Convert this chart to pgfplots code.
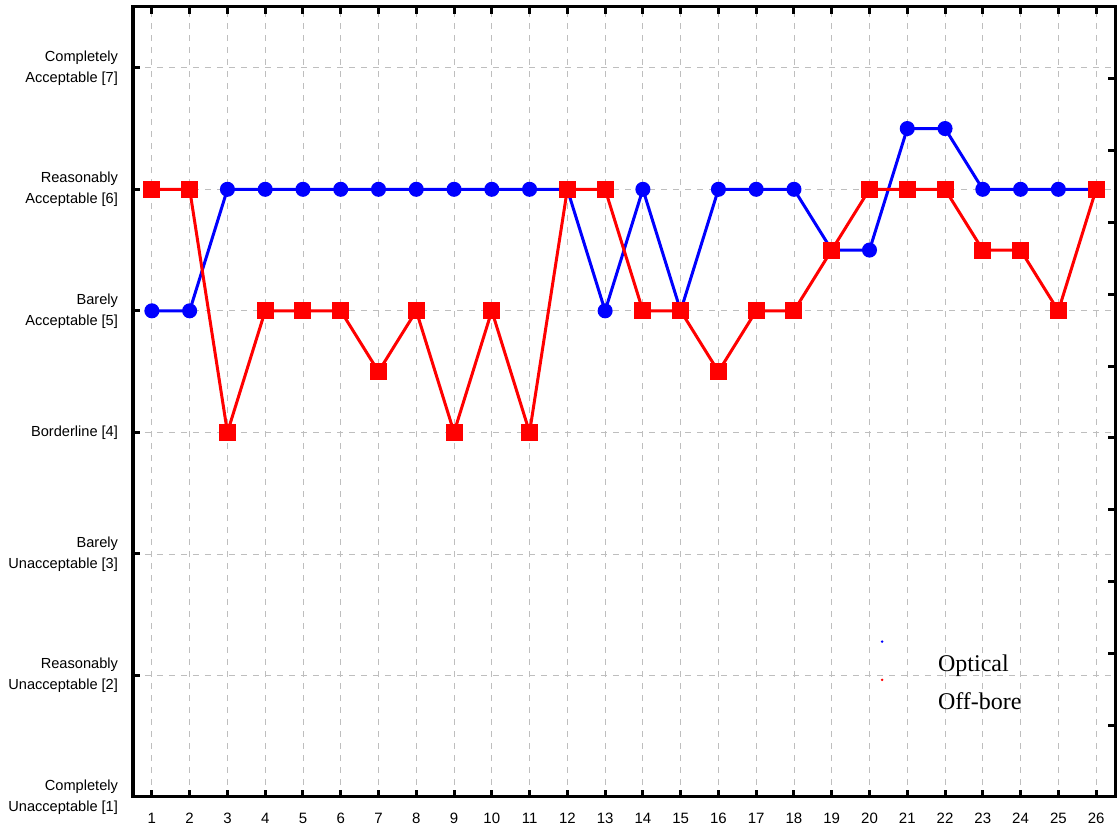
\documentclass[border=0pt]{standalone}
\usepackage{pgfplots}
\pgfplotsset{compat=1.18}
\usepackage{fontspec}
\setmainfont{Liberation Serif}
\newfontfamily\arial{Liberation Sans}
\definecolor{gridgray}{RGB}{190,190,190}
\pgfplotstableread{
x optical offbore
1 5 6
2 5 6
3 6 4
4 6 5
5 6 5
6 6 5
7 6 4.5
8 6 5
9 6 4
10 6 5
11 6 4
12 6 6
13 5 6
14 6 5
15 5 5
16 6 4.5
17 6 5
18 6 5
19 5.5 5.5
20 5.5 6
21 6.5 6
22 6.5 6
23 6 5.5
24 6 5.5
25 6 5
26 6 6
}\data
\begin{document}
\begin{tikzpicture}
\begin{axis}[
  name=main,
  scale only axis,
  width=491pt, height=395pt,
  xmin=0.5, xmax=26.5,
  ymin=1, ymax=7.5,
  xtick={1,...,26},
  ytick={1,...,7},
  yticklabels={{Completely\\Unacceptable [1]},{Reasonably\\Unacceptable [2]},{Barely\\Unacceptable [3]},{Borderline [4]},{Barely\\Acceptable [5]},{Reasonably\\Acceptable [6]},{Completely\\Acceptable [7]}},
  yticklabel style={align=right, font=\arial\fontsize{7.3}{10.5}\selectfont, xshift=-4pt},
  xticklabel style={font=\arial\fontsize{7.5}{9}\selectfont, yshift=-4.5pt},
  /pgf/number format/assume math mode=true,
  ytick pos=left,
  xtick pos=both,
  tick align=inside,
  major tick length=3.5pt,
  every tick/.style={black, line width=1.5pt},
  axis line style={line width=1.5pt},
  grid=major,
  major grid style={gridgray, dashed, line width=0.4pt},
  clip=false,
  legend style={draw=none, fill=none, font=\fontsize{12}{14}\selectfont, at={(rel axis cs:0.761,0.199)}, anchor=north west, inner sep=0pt, row sep=0pt, column sep=2pt},
  legend cell align=left,
]
\addplot[blue, line width=1.5pt, mark=*, mark size=3pt, mark options={solid}, legend image code/.code={\fill[blue, draw=none] (0pt,11.5pt) circle (0.7pt); \path[draw=none] (0pt,0pt) rectangle (24pt,0pt);}] table[x=x, y=optical] {\data};
\addlegendentry{Optical}
\addplot[red, line width=1.5pt, mark=square*, mark size=3.5pt, mark options={solid}, legend image code/.code={\fill[red, draw=none] (0pt,11.5pt) circle (0.7pt); \path[draw=none] (0pt,0pt) rectangle (24pt,0pt);}] table[x=x, y=offbore] {\data};
\addlegendentry{Off-bore}
\end{axis}
\begin{axis}[
  scale only axis,
  width=491pt, height=395pt,
  xmin=0.5, xmax=26.5,
  ymin=0, ymax=11,
  ytick={1,...,10},
  yticklabels={},
  ytick pos=right,
  xtick=\empty,
  tick align=inside,
  major tick length=3.5pt,
  every tick/.style={black, line width=1.5pt},
  axis line style={line width=1.5pt},
]
\end{axis}
\path (main.south west) ++(-66.5pt,-15.5pt) coordinate (bl);
\path (main.north east) ++(2pt,3.5pt) coordinate (tr);
\pgfresetboundingbox
\useasboundingbox (bl) rectangle (tr);
\end{tikzpicture}
\end{document}
